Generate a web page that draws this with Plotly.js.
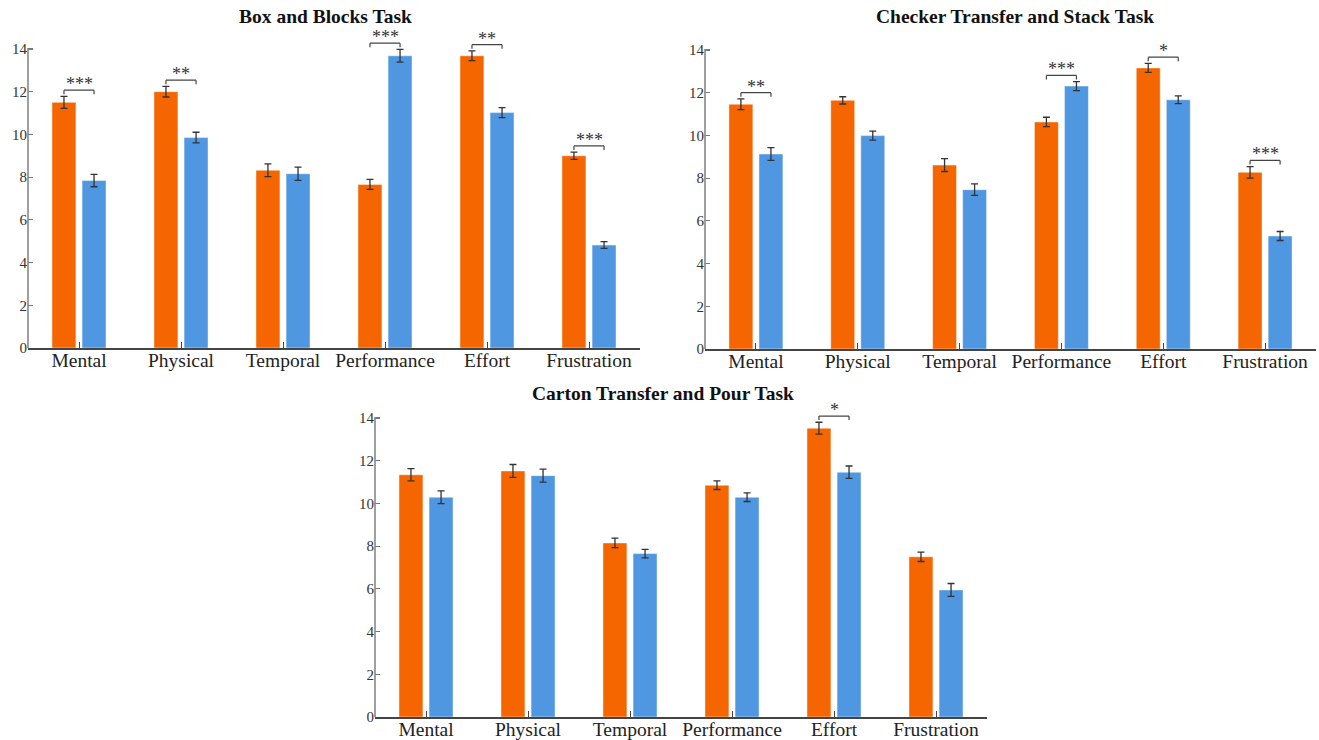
<!DOCTYPE html>
<html>
<head>
<meta charset="utf-8">
<script src="https://cdn.plot.ly/plotly-3.0.1.min.js"></script>
<style>html,body{margin:0;padding:0;background:#fff;}#chart{width:1319px;height:740px;}</style>
</head>
<body>
<div id="chart"></div>
<script>
const categories = ['Mental', 'Physical', 'Temporal', 'Performance', 'Effort', 'Frustration'];
const yTicks = [0, 2, 4, 6, 8, 10, 12, 14];

const boxTitle = 'Box and Blocks Task';
const boxOrange = [11.50, 12.00, 8.32, 7.66, 13.68, 9.00];
const boxOrangeErr = [0.28, 0.25, 0.30, 0.23, 0.23, 0.17];
const boxBlue = [7.84, 9.85, 8.16, 13.68, 11.02, 4.82];
const boxBlueErr = [0.29, 0.25, 0.31, 0.30, 0.23, 0.16];
const boxSig = ['***', '**', '', '***', '**', '***'];

const checkerTitle = 'Checker Transfer and Stack Task';
const checkerOrange = [11.46, 11.64, 8.61, 10.63, 13.16, 8.27];
const checkerOrangeErr = [0.25, 0.17, 0.30, 0.22, 0.21, 0.27];
const checkerBlue = [9.13, 9.99, 7.46, 12.31, 11.67, 5.29];
const checkerBlueErr = [0.30, 0.21, 0.27, 0.21, 0.18, 0.21];
const checkerSig = ['**', '', '', '***', '*', '***'];

const cartonTitle = 'Carton Transfer and Pour Task';
const cartonOrange = [11.34, 11.52, 8.15, 10.85, 13.52, 7.50];
const cartonOrangeErr = [0.29, 0.30, 0.22, 0.20, 0.28, 0.22];
const cartonBlue = [10.29, 11.30, 7.65, 10.29, 11.46, 5.95];
const cartonBlueErr = [0.30, 0.30, 0.20, 0.20, 0.29, 0.30];
const cartonSig = ['', '', '', '', '*', ''];

const ORANGE = '#f56600';
const BLUE = '#4f97e1';
const SERIF = 'Liberation Serif, Times New Roman, serif';

const BAR_W = 0.235, GAP = 0.03;
const panels = [
  {title: boxTitle, o: boxOrange, oe: boxOrangeErr, b: boxBlue, be: boxBlueErr, sig: boxSig,
   xd: [28/1319, 640/1319], yd: [(740-348)/740, (740-27.6)/740], tx: 325/1319, ty: (740-16)/740},
  {title: checkerTitle, o: checkerOrange, oe: checkerOrangeErr, b: checkerBlue, be: checkerBlueErr, sig: checkerSig,
   xd: [705/1319, 1316/1319], yd: [(740-349)/740, (740-28.6)/740], tx: 1015/1319, ty: (740-16)/740},
  {title: cartonTitle, o: cartonOrange, oe: cartonOrangeErr, b: cartonBlue, be: cartonBlueErr, sig: cartonSig,
   xd: [375/1319, 987/1319], yd: [(740-717)/740, (740-396.6)/740], tx: 663/1319, ty: (740-393)/740}
];

const data = [];
const layout = {
  width: 1319, height: 740,
  margin: {l: 0, r: 0, t: 0, b: 0},
  paper_bgcolor: '#fff', plot_bgcolor: 'rgba(0,0,0,0)',
  showlegend: false, barmode: 'overlay',
  font: {family: SERIF, color: '#222'},
  shapes: [], annotations: []
};

panels.forEach((p, k) => {
  const n = k === 0 ? '' : String(k + 1);
  const xa = 'x' + n, ya = 'y' + n;
  const errStyle = {thickness: 1.3, width: 3.5, color: '#333'};
  data.push({
    type: 'bar', x: categories, y: p.o, xaxis: xa, yaxis: ya,
    width: BAR_W, offset: -BAR_W - GAP,
    marker: {color: ORANGE, line: {color: 'rgba(255,255,255,0.45)', width: 1}},
    error_y: Object.assign({type: 'data', array: p.oe, visible: true}, errStyle),
    hoverinfo: 'y'
  });
  data.push({
    type: 'bar', x: categories, y: p.b, xaxis: xa, yaxis: ya,
    width: BAR_W, offset: GAP,
    marker: {color: BLUE, line: {color: 'rgba(255,255,255,0.45)', width: 1}},
    error_y: Object.assign({type: 'data', array: p.be, visible: true}, errStyle),
    hoverinfo: 'y'
  });
  layout['xaxis' + n] = {
    domain: p.xd, anchor: ya, type: 'category', range: [-0.5, 5.5],
    showline: true, linecolor: '#444', linewidth: 1.6,
    ticks: 'inside', ticklen: 6, tickcolor: '#444', tickwidth: 1,
    showgrid: false, zeroline: false, fixedrange: true,
    ticklabelstandoff: -6,
    tickfont: {family: SERIF, size: 19.5, color: '#222'}
  };
  layout['yaxis' + n] = {
    domain: p.yd, anchor: xa, range: [0, 15],
    showline: false, showgrid: false, zeroline: false,
    tickvals: yTicks, ticks: 'inside', ticklen: 5, tickcolor: '#777', tickwidth: 1.2,
    tickfont: {family: SERIF, size: 15, color: '#333'}, fixedrange: true
  };
  // y axis line up to the top tick
  layout.shapes.push({type: 'line', xref: xa + ' domain', yref: ya, x0: 0, x1: 0, y0: 0, y1: 14.05,
    line: {color: '#888', width: 1.6}});
  // title
  layout.annotations.push({xref: 'paper', yref: 'paper', x: p.tx, y: p.ty, xanchor: 'center', yanchor: 'middle',
    text: '<b>' + p.title + '</b>', showarrow: false, font: {family: SERIF, size: 19.5, color: '#111'}});
  // significance brackets
  p.sig.forEach((s, i) => {
    if (!s) return;
    const top = Math.max(p.o[i] + p.oe[i], p.b[i] + p.be[i]) + 0.29;
    const xl = i - GAP - BAR_W / 2, xr = i + GAP + BAR_W / 2;
    const ln = {color: '#444', width: 1.2};
    layout.shapes.push({type: 'line', xref: xa, yref: ya, x0: xl, x1: xr, y0: top, y1: top, line: ln});
    layout.shapes.push({type: 'line', xref: xa, yref: ya, x0: xl, x1: xl, y0: top, y1: top - 0.19, line: ln});
    layout.shapes.push({type: 'line', xref: xa, yref: ya, x0: xr, x1: xr, y0: top, y1: top - 0.19, line: ln});
    layout.annotations.push({xref: xa, yref: ya, x: i, y: top, xanchor: 'center', yanchor: 'bottom',
      yshift: -6, text: s, showarrow: false, font: {family: SERIF, size: 18, color: '#333'}});
  });
});

Plotly.newPlot('chart', data, layout, {displayModeBar: false, staticPlot: true});
</script>
</body>
</html>
